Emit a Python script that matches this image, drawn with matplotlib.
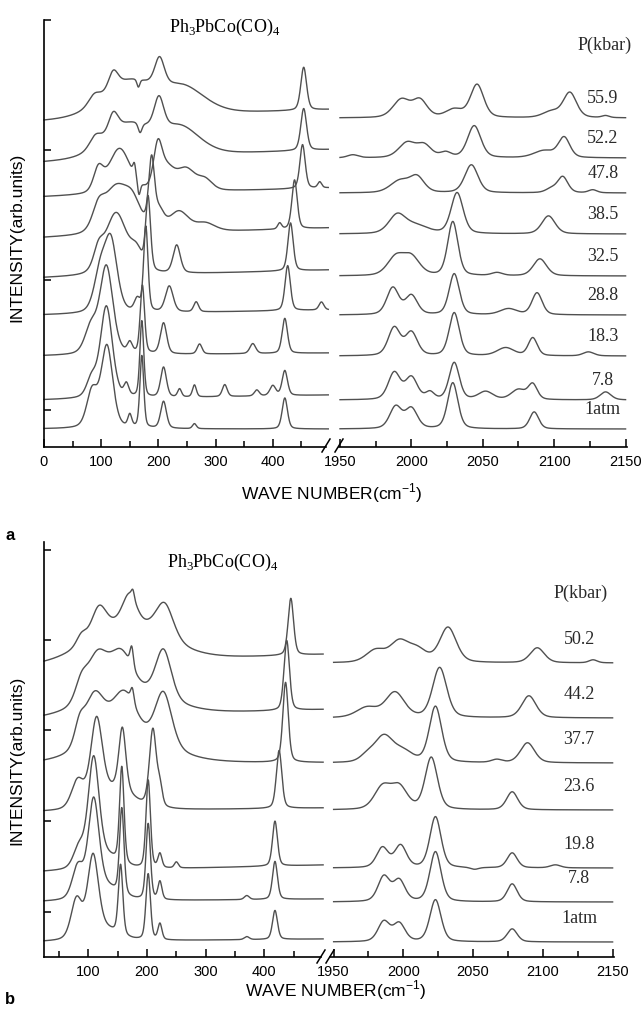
import numpy as np
import matplotlib
matplotlib.use("Agg")
import matplotlib.pyplot as plt
from matplotlib.lines import Line2D
from matplotlib.ticker import MultipleLocator

plt.rcParams['font.family'] = ['Liberation Sans', 'DejaVu Sans']
plt.rcParams['mathtext.fontset'] = 'custom'
plt.rcParams['mathtext.rm'] = 'Liberation Serif'
plt.rcParams['mathtext.sf'] = 'Liberation Sans'

W, H = 644, 1010
LINE = '#505050'
SERIF = ['Liberation Serif', 'DejaVu Serif']

# ---------------- panel a ----------------
a_labels = ["1atm", "7.8", "18.3", "28.8", "32.5", "38.5", "47.8", "52.2", "55.9"]
# baseline (start, end) of the low-frequency part, and of the CO part
a_base_low = [(18, 18), (47, 52), (91, 94), (132, 137), (169, 177), (209, 219), (250, 259), (284, 297), (325, 337)]
a_base_co = [18, 47, 91, 132, 171, 213, 254, 289, 329]
# peaks: (wave number, height, width)
a_peaks_low = [
    [(84, 36, 22), (110, 82, 24), (150, 12, 8), (171, 72, 8), (209, 27, 12), (263, 5, 8), (421, 31, 11)],
    [(83, 18, 20), (109, 92, 25), (144, 12, 10), (171, 76, 8), (209, 30, 12), (237, 8, 8), (263, 12, 8),
     (316, 12, 10), (372, 6, 10), (400, 10, 12), (421, 25, 11)],
    [(82, 26, 25), (109, 88, 27), (150, 10, 10), (172, 68, 9), (209, 31, 13), (272, 10, 10), (365, 10, 12),
     (421, 35, 11)],
    [(98, 38, 25), (117, 70, 26), (163, 12, 12), (178, 85, 9), (219, 26, 16), (266, 10, 10), (426, 45, 11),
     (485, 8, 10)],
    [(95, 18, 20), (126, 62, 45), (162, 18, 25), (182, 72, 10), (232, 28, 15), (431, 48, 11)],
    [(95, 20, 25), (125, 45, 50), (155, 25, 35), (188, 66, 12), (201, 18, 20), (236, 20, 40), (282, 8, 40),
     (412, 6, 8), (438, 49, 11)],
    [(95, 22, 20), (132, 45, 45), (158, 12, 6), (166, -14, 6), (199, 42, 18), (215, 20, 30), (248, 22, 40),
     (282, 10, 30), (452, 44, 11), (482, 6, 8)],
    [(90, 12, 25), (121, 20, 20), (150, 34, 100), (168, -10, 8), (201, 32, 20), (240, 26, 80), (454, 42, 12)],
    [(88, 10, 25), (121, 18, 20), (150, 36, 110), (165, -8, 6), (202, 28, 20), (245, 25, 90), (454, 43, 12)],
]
a_peaks_co = [
    [(1989, 22, 10), (2000, 20, 10), (2029, 46, 8.5), (2086, 17, 7.5)],
    [(1988, 27, 10), (2000, 22, 10), (2013, 7, 7), (2030, 37, 8.5), (2052, 8, 12), (2075, 10, 12),
     (2085, 15, 7.5), (2136, 8, 9)],
    [(1988, 28, 10), (2000, 23, 10), (2030, 43, 8.5), (2066, 8, 14), (2085, 18, 7.5), (2124, 4, 9)],
    [(1987, 27, 10), (2000, 19, 10), (2030, 41, 8.5), (2068, 6, 14), (2088, 22, 8.5)],
    [(1989, 18, 14), (2000, 18, 14), (2029, 54, 8.5), (2060, 3, 9), (2090, 17, 11)],
    [(1990, 18, 14), (2003, 8, 20), (2032, 41, 10), (2096, 18, 11)],
    [(1992, 12, 16), (2004, 15, 12), (2042, 28, 11), (2098, 4, 9), (2106, 16, 8.5), (2127, 3, 7)],
    [(1959, 3, 9), (1997, 15, 14), (2009, 12, 12), (2024, 5, 9), (2044, 32, 11), (2093, 7, 17),
     (2107, 20, 9.5)],
    [(1993, 18, 14), (2006, 17, 12), (2030, 8, 14), (2046, 33, 11), (2098, 6, 14), (2111, 25, 11),
     (2136, 2, 6)],
]

# ---------------- panel b ----------------
b_labels = ["1atm", "7.8", "19.8", "23.6", "37.7", "44.2", "50.2"]
b_base_low = [(15, 18), (55, 58), (85, 92), (145, 149), (192, 194), (237, 247), (290, 302)]
b_base_co = [15, 55, 89, 147, 194, 239, 294]
b_peaks_low = [
    [(80, 40, 22), (108, 80, 22), (130, 10, 50), (155, 70, 9), (202, 66, 9), (222, 16, 8), (370, 3, 10),
     (418, 29, 10)],
    [(82, 32, 22), (109, 95, 22), (130, 12, 50), (157, 86, 9), (202, 76, 9), (222, 18, 8), (370, 4, 10),
     (418, 38, 10)],
    [(84, 20, 22), (109, 106, 22), (130, 12, 50), (157, 96, 9), (202, 88, 9), (222, 14, 8), (250, 6, 8),
     (418, 45, 10)],
    [(82, 28, 25), (114, 85, 24), (150, 20, 60), (158, 62, 14), (210, 78, 14), (222, 18, 10), (425, 58, 11)],
    [(85, 20, 20), (110, 50, 40), (165, 25, 150), (160, 45, 50), (175, 14, 7), (228, 55, 34), (436, 80, 11)],
    [(88, 20, 25), (115, 42, 40), (165, 25, 150), (155, 38, 45), (174, 20, 7), (228, 50, 32), (438, 70, 11)],
    [(88, 10, 20), (118, 28, 30), (165, 40, 150), (170, 28, 28), (176, 8, 6), (230, 35, 36), (445, 57, 11)],
]
b_peaks_co = [
    [(1986, 20, 10), (1997, 18, 10), (2023, 42, 9.5), (2078, 13, 8.5)],
    [(1986, 25, 10), (1997, 21, 10), (2023, 50, 9.5), (2078, 18, 8.5)],
    [(1985, 20, 10), (1998, 22, 10), (2023, 51, 9.5), (2051, -2, 7), (2078, 15, 8.5), (2109, 3, 9)],
    [(1985, 22, 14), (1997, 22, 14), (2020, 52, 10.5), (2078, 18, 9.5)],
    [(1974, 6, 12), (1986, 26, 16), (2000, 10, 16), (2023, 56, 10.5), (2067, 3, 9), (2089, 20, 12)],
    [(1974, 10, 18), (1994, 25, 16), (2026, 50, 12), (2090, 22, 12)],
    [(1980, 12, 16), (1997, 20, 16), (2010, 12, 16), (2032, 35, 14), (2096, 15, 12), (2136, 3, 7)],
]


def pv(x, c, h, w, eta=0.35):
    d = (x - c) / w
    return h * (eta / (1 + 4 * d * d) + (1 - eta) * np.exp(-4 * np.log(2) * d * d))


def spectrum(x, peaks, b0, b1):
    y = b0 + (b1 - b0) * (x - x[0]) / (x[-1] - x[0])
    for c, h, w in peaks:
        y = y + pv(x, c, h, w)
    return y


def frac(x0, y0, x1, y1):
    # pixel box -> figure fraction rect
    return [x0 / W, 1 - y1 / H, (x1 - x0) / W, (y1 - y0) / H]


fig = plt.figure(figsize=(W / 100, H / 100), dpi=100)


def panel(box_l, box_r, xlim_l, xlim_r, ylim, yticks, low_range, base_low, base_co,
          peaks_low, peaks_co, labels, lab_x, lab_dy, pk_xy, slashes):
    axl = fig.add_axes(frac(*box_l))
    axr = fig.add_axes(frac(*box_r))
    xl = np.linspace(low_range[0], low_range[1], 1200)
    xr = np.linspace(1950, 2150, 800)
    for i in range(len(labels)):
        axl.plot(xl, spectrum(xl, peaks_low[i], *base_low[i]), color=LINE, lw=1.0, clip_on=False)
        axr.plot(xr, spectrum(xr, peaks_co[i], base_co[i], base_co[i]), color=LINE, lw=1.0)
        axr.text(lab_x, base_co[i] + lab_dy, labels[i], ha='center', va='bottom',
                 fontsize=13, family=SERIF, color='#2a2a2a')
    axr.text(pk_xy[0], pk_xy[1], "P(kbar)", ha='center', va='center', fontsize=13,
             family=SERIF, color='#2a2a2a')
    for ax, lim in ((axl, xlim_l), (axr, xlim_r)):
        ax.set_xlim(*lim)
        ax.set_ylim(*ylim)
        ax.spines['top'].set_visible(False)
        ax.spines['right'].set_visible(False)
        ax.spines['bottom'].set_linewidth(1.2)
        ax.tick_params(axis='x', which='both', direction='in', labelsize=10.5, pad=6, width=1.1)
        ax.tick_params(axis='x', which='major', length=6)
        ax.tick_params(axis='x', which='minor', length=4)
        ax.patch.set_visible(False)
    axl.xaxis.set_major_locator(MultipleLocator(100))
    axl.xaxis.set_minor_locator(MultipleLocator(50))
    axr.xaxis.set_major_locator(MultipleLocator(50))
    axr.xaxis.set_minor_locator(MultipleLocator(25))
    axl.spines['left'].set_linewidth(1.2)
    axl.set_yticks(yticks)
    axl.tick_params(axis='y', direction='in', length=5, width=1.1, labelleft=False)
    axr.spines['left'].set_visible(False)
    axr.set_yticks([])
    for (x0, y0, x1, y1) in slashes:
        fig.add_artist(Line2D([x0 / W, x1 / W], [1 - y0 / H, 1 - y1 / H], color='black', lw=1.1,
                              transform=fig.transFigure))
    return axl, axr


panel((44, 20, 326, 447), (339, 20, 627, 447), (0, 493), (1949.3, 2151), (0, 427), [37, 167, 297, 427],
      (0, 497), a_base_low, a_base_co, a_peaks_low, a_peaks_co, a_labels, 2134, 11, (2135, 402),
      [(322, 452, 330, 439), (335, 452, 343, 439)])
panel((44, 542, 321, 957), (330, 542, 614, 957), (24.5, 496.4), (1947.4, 2151), (0, 415),
      [45, 136, 227, 317, 407], (24.5, 500), b_base_low, b_base_co, b_peaks_low, b_peaks_co, b_labels,
      2126, 15, (2127, 364), [(317, 963, 325, 950), (326, 963, 334, 950)])

title = r"Ph$_3$PbCo(CO)$_4$"
fig.text(225 / W, 1 - 27 / H, title, ha='center', va='center', fontsize=13, family=SERIF)
fig.text(223 / W, 1 - 562 / H, title, ha='center', va='center', fontsize=13, family=SERIF)

xlab = r"WAVE NUMBER(cm$^{\mathsf{-1}}$)"
fig.text(332 / W, 1 - 493 / H, xlab, ha='center', va='center', fontsize=12.5)
fig.text(336 / W, 1 - 990 / H, xlab, ha='center', va='center', fontsize=12.5)
ylab = "INTENSITY(arb.units)"
fig.text(17 / W, 1 - 237 / H, ylab, ha='center', va='center', rotation=90, fontsize=12.5)
fig.text(17 / W, 1 - 760 / H, ylab, ha='center', va='center', rotation=90, fontsize=12.5)

fig.text(10 / W, 1 - 536 / H, "a", ha='center', va='center', fontsize=12, fontweight='bold')
fig.text(10 / W, 1 - 1000 / H, "b", ha='center', va='center', fontsize=12, fontweight='bold')

fig.savefig("out.png", dpi=100)
